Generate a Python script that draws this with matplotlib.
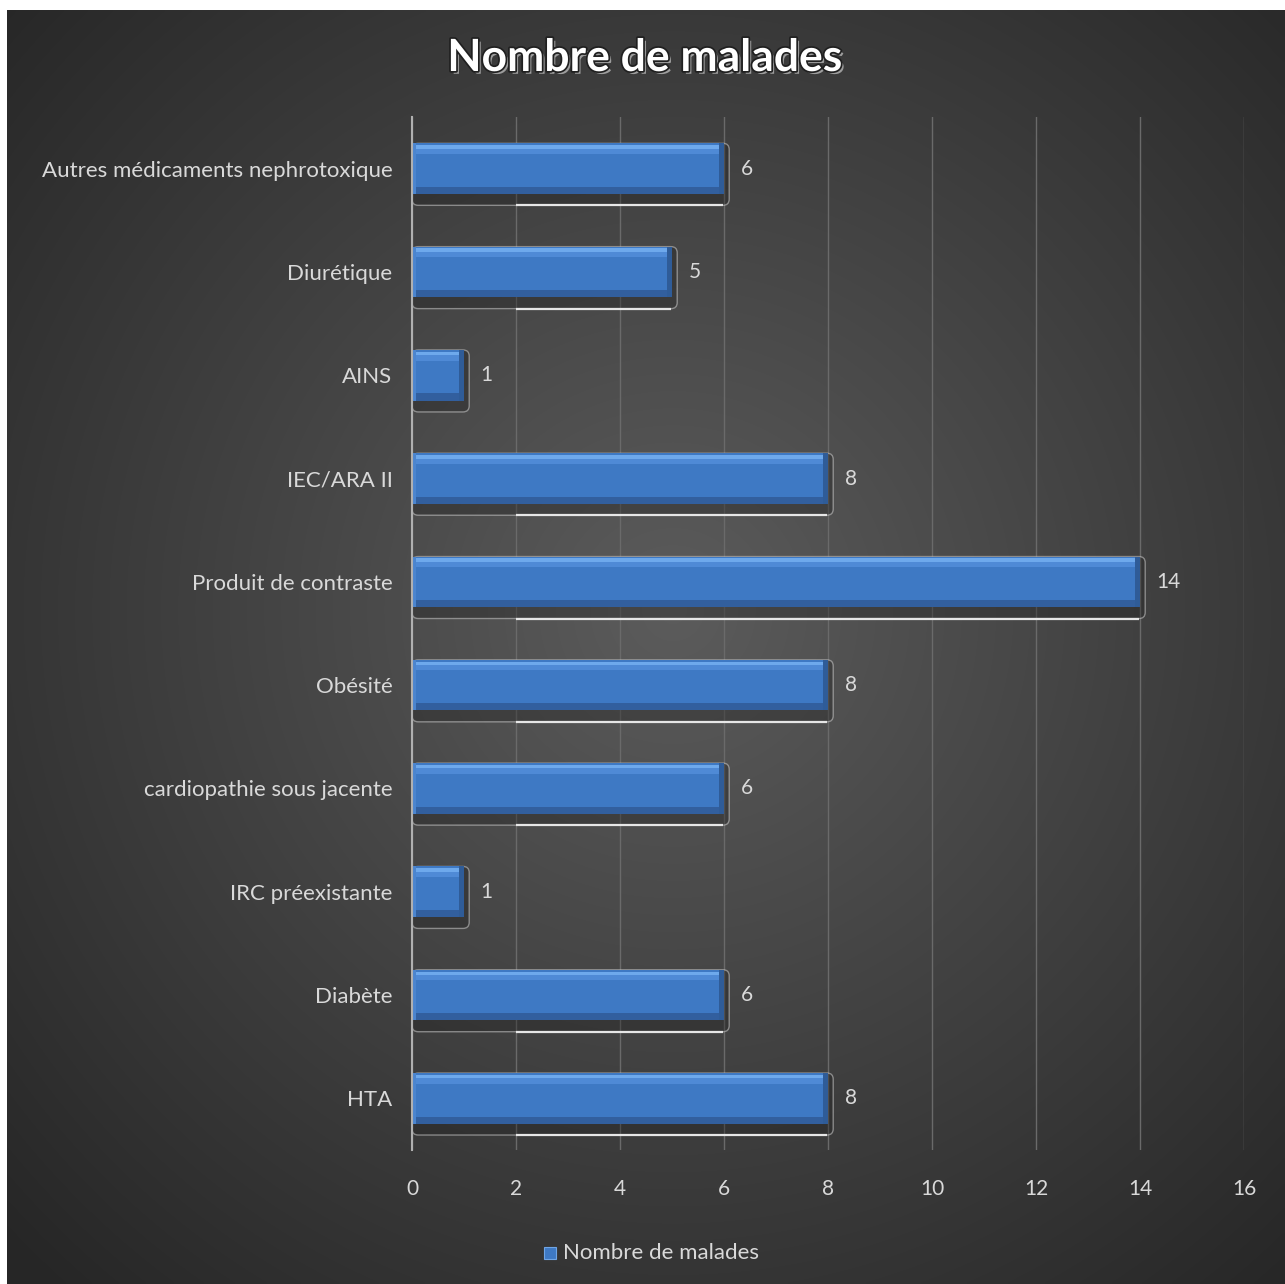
import numpy as np
import matplotlib
matplotlib.use("Agg")
import matplotlib.pyplot as plt
import matplotlib.patheffects as pe
from matplotlib.patches import FancyBboxPatch, Rectangle

plt.rcParams['font.family'] = ['Lato', 'DejaVu Sans']

categories = ["HTA", "Diabète", "IRC préexistante", "cardiopathie sous jacente",
              "Obésité", "Produit de contraste", "IEC/ARA II", "AINS",
              "Diurétique", "Autres médicaments nephrotoxique"]
values = [8, 6, 1, 6, 8, 14, 8, 1, 5, 6]
xticks = [0, 2, 4, 6, 8, 10, 12, 14, 16]
series_name = "Nombre de malades"
title = "Nombre de malades"

W, H = 1285, 1284
fig = plt.figure(figsize=(W / 100, H / 100), dpi=100, facecolor="white")

# dark radial-gradient background panel
bg = fig.add_axes([7 / W, 0, 1 - 7 / W, 1 - 10 / H])
bg.set_axis_off()
ny, nx = 400, 400
yy, xx = np.mgrid[0:ny, 0:nx]
cx, cy = 0.52 * nx, 0.47 * ny
r = np.sqrt(((xx - cx) / nx) ** 2 + ((yy - cy) / ny) ** 2) / 0.72
r = np.clip(r, 0, 1)
inner = np.array([0.36, 0.36, 0.36])
outer = np.array([0.15, 0.15, 0.15])
img = inner[None, None, :] * (1 - r[..., None]) + outer[None, None, :] * r[..., None]
bg.imshow(img, aspect="auto", extent=[0, 1, 0, 1], interpolation="bilinear")
bg.set_xlim(0, 1)
bg.set_ylim(0, 1)

ax = fig.add_axes([412 / W, 1 - 1150 / H, (1244 - 412) / W, (1150 - 117) / H])
ax.set_facecolor("none")
ypos = np.arange(len(categories))
vals = np.array(values)
bh = 0.49

# soft outline shadow beneath each bar
for y, v in zip(ypos, values):
    p = FancyBboxPatch((0, y - bh / 2 - 0.11), v + 0.1, bh + 0.11,
                       boxstyle="round,pad=0,rounding_size=0.12",
                       mutation_aspect=0.5, facecolor=(0.12, 0.12, 0.12, 0.35),
                       edgecolor=(0.8, 0.8, 0.8, 0.55), linewidth=1.0, zorder=2)
    ax.add_patch(p)
long_bars = vals > 2
ax.hlines(ypos[long_bars] - bh / 2 - 0.11, 2, vals[long_bars] - 0.02,
          color="#e6e6e6", linewidth=1.6, zorder=2)

# bars with bevel-like shading
ax.barh(ypos, values, height=bh, color="#3e79c4", zorder=3)
ax.barh(ypos + bh * 0.36, values, height=bh * 0.14, color="#4f8ad6", zorder=4)
ax.barh(ypos + bh * 0.43, values, height=bh * 0.07, color="#6ea9ec", zorder=4)
ax.barh(ypos - bh * 0.43, values, height=bh * 0.14, color="#325f9e", zorder=4)
ax.barh(ypos, [0.09] * len(values), left=vals - 0.09, height=bh,
        color="#2f5c98", zorder=5)
ax.barh(ypos, [0.07] * len(values), height=bh, color="#4b85cf", zorder=5)

for y, v in zip(ypos, values):
    ax.text(v + 0.32, y, str(v), va="center", ha="left", fontsize=15,
            color="#d9d9d9", zorder=6)

ax.set_xlim(0, 16)
ax.set_ylim(-0.5, len(categories) - 0.5)
ax.set_xticks(xticks)
ax.set_xticklabels([str(t) for t in xticks])
ax.set_yticks(ypos)
ax.set_yticklabels(categories)
ax.tick_params(axis="both", length=0, labelsize=16, labelcolor="#d9d9d9")
ax.tick_params(axis="x", pad=21, labelsize=15)
ax.tick_params(axis="y", pad=14)
ax.grid(axis="x", color="#6a6a6a", linewidth=1.0, zorder=1)
ax.set_axisbelow(True)
for s in ["top", "right", "bottom"]:
    ax.spines[s].set_visible(False)
ax.spines["left"].set_color("#b0b0b0")
ax.spines["left"].set_linewidth(1.5)
ax.spines["left"].set_zorder(6)

fig.text(0.502, 1 - 58 / H, title, ha="center", va="center", fontsize=32,
         fontweight="bold", color="white",
         path_effects=[pe.withSimplePatchShadow(offset=(2, -2), shadow_rgbFace="white", alpha=0.5),
                       pe.Stroke(linewidth=2.5, foreground="#202020"),
                       pe.Normal()])

# legend
lx, ly = 550 / W, 1 - 1253 / H
fig.patches.append(Rectangle((lx - 6 / W, ly - 6 / H), 12 / W, 12 / H,
                             transform=fig.transFigure,
                             facecolor="#3e79c4", edgecolor="#6fa5e6",
                             linewidth=0.8))
fig.text(563 / W, ly, series_name, ha="left", va="center", fontsize=16, color="#d9d9d9")

fig.savefig("out.png", dpi=100, facecolor="white")
